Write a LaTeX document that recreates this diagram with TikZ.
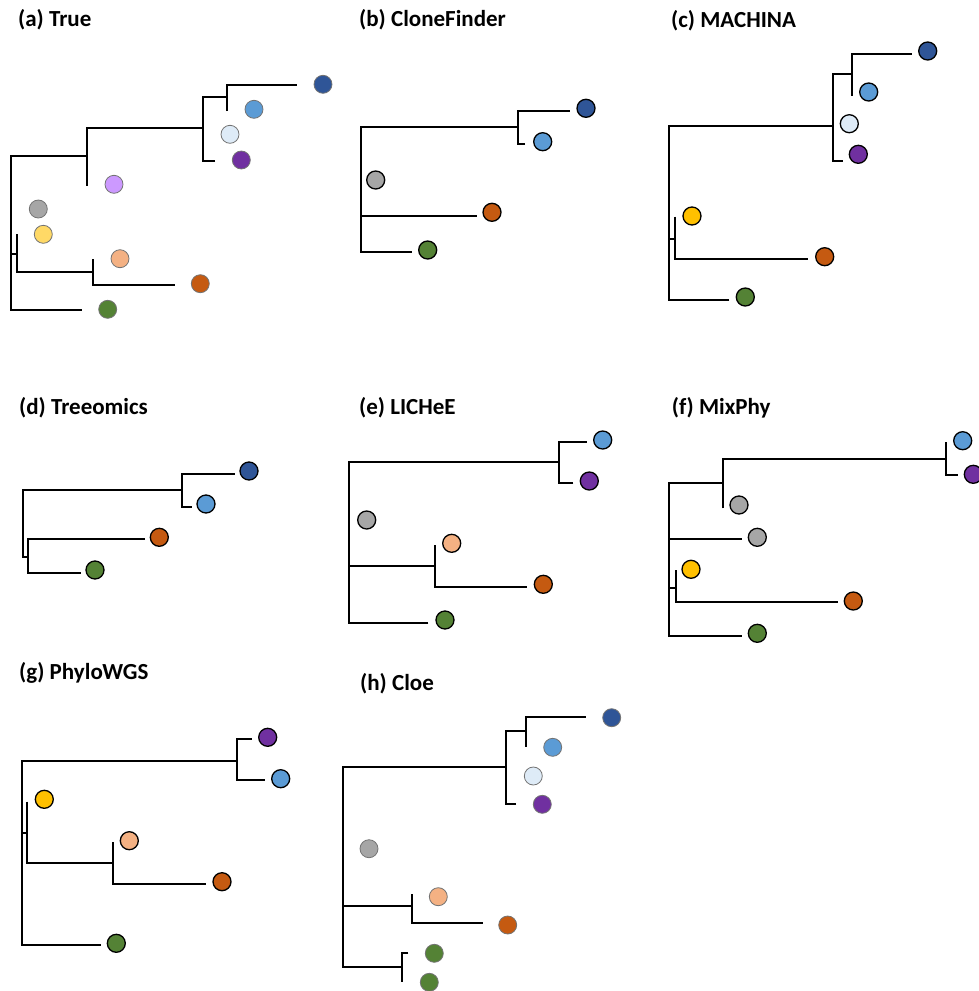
\documentclass[tikz,border=0pt]{standalone}
\usepackage{fontspec}
\setmainfont{Carlito}
\usepackage{xcolor}
\usepackage{tikz}

\definecolor{cDark}{HTML}{2F5597}
\definecolor{cBlue}{HTML}{5B9BD5}
\definecolor{cLight}{HTML}{DEEBF7}
\definecolor{cPurple}{HTML}{7030A0}
\definecolor{cLilac}{HTML}{CC99FF}
\definecolor{cGray}{HTML}{A6A6A6}
\definecolor{cSand}{HTML}{FFD966}
\definecolor{cGold}{HTML}{FFC000}
\definecolor{cPeach}{HTML}{F4B183}
\definecolor{cRust}{HTML}{C55A11}
\definecolor{cGreen}{HTML}{548235}

\begin{document}
\begin{tikzpicture}[
  x=1pt, y=-1pt,
  font=\bfseries\fontsize{23}{27}\selectfont,
  title/.style={anchor=base west, inner sep=0pt},
  br/.style={line width=1.9pt, draw=black},
  clone/.style={
    circle, draw=black, line width=1.3pt,
    minimum size=18pt, inner sep=0pt
  },
  soft/.style={clone, draw=black!55, line width=0.8pt}
]
\useasboundingbox (0,0) rectangle (979,991);

% (a) True
\node[title] (ta) at (18,26.7) {(a) True};
\draw[br] (81.7,310) -- (11,310) -- (11,155.7) -- (86.7,155.7);
\draw[br] (86.7,185.7) -- (86.7,128.3) -- (202.7,128.3);
\draw[br] (215,161) -- (202.7,161) -- (202.7,96.7) -- (226.7,96.7);
\draw[br] (226.7,111) -- (226.7,85) -- (296.7,85);
\draw[br] (11,254.3) -- (16.7,254.3);
\draw[br] (16.7,234.3) -- (16.7,271.7) -- (92.7,271.7);
\draw[br] (92.7,259) -- (92.7,285) -- (175,285);
\node[soft, fill=cDark] (aDark) at (323,84.3) {};
\node[soft, fill=cBlue] (aBlue) at (254,109.3) {};
\node[soft, fill=cLight] (aLight) at (230,134.3) {};
\node[soft, fill=cPurple] (aPurple) at (241.3,160) {};
\node[soft, fill=cLilac] (aLilac) at (114,184.3) {};
\node[soft, fill=cGray] (aGray) at (38.3,209) {};
\node[soft, fill=cSand] (aSand) at (43.3,234.3) {};
\node[soft, fill=cPeach] (aPeach) at (120,258.7) {};
\node[soft, fill=cRust] (aRust) at (200.3,283.7) {};
\node[soft, fill=cGreen] (aGreen) at (107.7,309.3) {};

% (b) CloneFinder
\node[title] (tb) at (359,26.7) {(b) CloneFinder};
\draw[br] (411.7,252.3) -- (360.7,252.3) -- (360.7,127.3) -- (518.3,127.3);
\draw[br] (525,144) -- (518.3,144) -- (518.3,111) -- (570,111);
\draw[br] (360.7,215.7) -- (476.7,215.7);
\node[clone, fill=cDark] (bDark) at (586,108.3) {};
\node[clone, fill=cBlue] (bBlue) at (542.7,141.7) {};
\node[clone, fill=cGray] (bGray) at (375.7,180) {};
\node[clone, fill=cRust] (bRust) at (492,212.3) {};
\node[clone, fill=cGreen] (bGreen) at (427.7,250) {};

% (c) MACHINA
\node[title] (tc) at (671,27) {(c) MACHINA};
\draw[br] (729.3,300) -- (669.3,300) -- (669.3,125.7) -- (832.7,125.7);
\draw[br] (842.7,160.7) -- (832.7,160.7) -- (832.7,74.3) -- (851.7,74.3);
\draw[br] (851.7,95.7) -- (851.7,54) -- (912.3,54);
\draw[br] (669.3,239) -- (675,239);
\draw[br] (675,216.7) -- (675,259.3) -- (808.3,259.3);
\node[clone, fill=cDark] (cDarkN) at (927.7,51) {};
\node[clone, fill=cBlue] (cBlueN) at (868.7,92) {};
\node[clone, fill=cLight] (cLightN) at (849.3,123.7) {};
\node[clone, fill=cPurple] (cPurpleN) at (858.3,154.3) {};
\node[clone, fill=cGold] (cGoldN) at (692,216) {};
\node[clone, fill=cRust] (cRustN) at (824.7,256.7) {};
\node[clone, fill=cGreen] (cGreenN) at (745.3,297) {};

% (d) Treeomics
\node[title] (td) at (19,414) {(d) Treeomics};
\draw[br] (27.7,556.7) -- (23.3,556.7) -- (23.3,490) -- (182.3,490);
\draw[br] (191.7,506.7) -- (182.3,506.7) -- (182.3,474.3) -- (235,474.3);
\draw[br] (145,539.3) -- (27.7,539.3) -- (27.7,573.3) -- (80.7,573.3);
\node[clone, fill=cDark] (dDark) at (249,471) {};
\node[clone, fill=cBlue] (dBlue) at (206,504) {};
\node[clone, fill=cRust] (dRust) at (159.3,537.3) {};
\node[clone, fill=cGreen] (dGreen) at (95,570) {};

% (e) LICHeE
\node[title] (te) at (359,414) {(e) LICHeE};
\draw[br] (428.3,622.7) -- (349,622.7) -- (349,461.7) -- (559,461.7);
\draw[br] (573.3,483.3) -- (559,483.3) -- (559,441.7) -- (586.7,441.7);
\draw[br] (349,565.7) -- (435,565.7);
\draw[br] (435,545) -- (435,586.7) -- (527.3,586.7);
\node[clone, fill=cBlue] (eBlue) at (602.7,440) {};
\node[clone, fill=cPurple] (ePurple) at (589.3,481) {};
\node[clone, fill=cGray] (eGray) at (366.7,520) {};
\node[clone, fill=cPeach] (ePeach) at (451.7,543.3) {};
\node[clone, fill=cRust] (eRust) at (543.3,584.3) {};
\node[clone, fill=cGreen] (eGreen) at (445,620) {};

% (f) MixPhy
\node[title] (tf) at (671.7,414) {(f) MixPhy};
\draw[br] (741.7,636) -- (669.3,636) -- (669.3,483.3) -- (723.3,483.3);
\draw[br] (723.3,508.3) -- (723.3,459.3) -- (946,459.3);
\draw[br] (946,442.3) -- (946,475) -- (958.3,475);
\draw[br] (669.3,539.3) -- (741.7,539.3);
\draw[br] (669.3,587.7) -- (675.7,587.7);
\draw[br] (675.7,570) -- (675.7,602.3) -- (837.7,602.3);
\node[clone, fill=cBlue] (fBlue) at (962.7,440.7) {};
\node[clone, fill=cPurple] (fPurple) at (973.3,474.3) {};
\node[clone, fill=cGray] (fGrayA) at (739,505) {};
\node[clone, fill=cGray] (fGrayB) at (757.3,537.3) {};
\node[clone, fill=cGold] (fGold) at (691,569.3) {};
\node[clone, fill=cRust] (fRust) at (853.3,601) {};
\node[clone, fill=cGreen] (fGreen) at (757.3,633.3) {};

% (g) PhyloWGS
\node[title] (tg) at (19,679) {(g) PhyloWGS};
\draw[br] (100.7,945) -- (21.7,945) -- (21.7,761) -- (237.3,761);
\draw[br] (251.7,739.3) -- (237.3,739.3) -- (237.3,780) -- (265,780);
\draw[br] (21.7,832.7) -- (27.3,832.7);
\draw[br] (27.3,801.7) -- (27.3,863.3) -- (113.3,863.3);
\draw[br] (113.3,842.3) -- (113.3,884) -- (206,884);
\node[clone, fill=cPurple] (gPurple) at (267.7,737.3) {};
\node[clone, fill=cBlue] (gBlue) at (280.7,778.7) {};
\node[clone, fill=cGold] (gGold) at (44.3,799.3) {};
\node[clone, fill=cPeach] (gPeach) at (129.3,840.7) {};
\node[clone, fill=cRust] (gRust) at (222,881.7) {};
\node[clone, fill=cGreen] (gGreen) at (116.3,943.3) {};

% (h) Cloe
\node[title] (th) at (360,690) {(h) Cloe};
\draw[br] (402.3,966.7) -- (343.3,966.7) -- (343.3,767.3) -- (506,767.3);
\draw[br] (516,804) -- (506,804) -- (506,731) -- (525.7,731);
\draw[br] (525.7,746.7) -- (525.7,717.3) -- (585.7,717.3);
\draw[br] (343.3,906) -- (412.3,906);
\draw[br] (412.3,894.3) -- (412.3,923.3) -- (482.7,923.3);
\draw[br] (408.3,953.3) -- (402.3,953.3) -- (402.3,982.3);
\node[soft, fill=cDark] (hDark) at (611.7,717.7) {};
\node[soft, fill=cBlue] (hBlue) at (552.7,747.3) {};
\node[soft, fill=cLight] (hLight) at (533.3,776) {};
\node[soft, fill=cPurple] (hPurple) at (542.3,804.3) {};
\node[soft, fill=cGray] (hGray) at (369,848.7) {};
\node[soft, fill=cPeach] (hPeach) at (438.3,896.7) {};
\node[soft, fill=cRust] (hRust) at (507.7,925) {};
\node[soft, fill=cGreen] (hGreenA) at (434.3,953.3) {};
\node[soft, fill=cGreen] (hGreenB) at (429.3,982.3) {};

\end{tikzpicture}
\end{document}
